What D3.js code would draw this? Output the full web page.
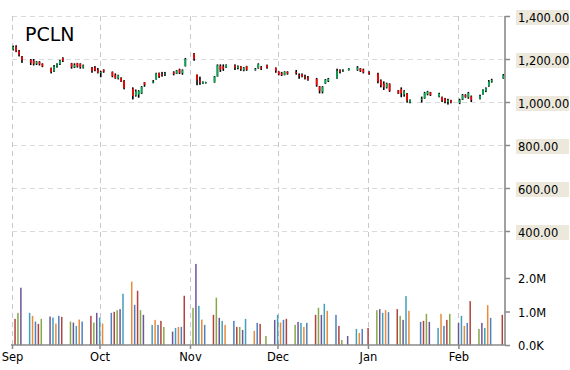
<!DOCTYPE html>
<html>
<head>
<meta charset="utf-8">
<script src="https://cdn.jsdelivr.net/npm/d3@7"></script>
<style>
  body { margin: 0; background: #fff; }
  svg text { font-family: "DejaVu Sans", Verdana, sans-serif; fill: #000; }
</style>
</head>
<body>
<svg id="chart" width="570" height="370"></svg>
<script>
// trading days, Sep 2014 - Feb 2015
var dates = [
  "2014-09-02","2014-09-03","2014-09-04","2014-09-05","2014-09-08","2014-09-09","2014-09-10","2014-09-11","2014-09-12",
  "2014-09-15","2014-09-16","2014-09-17","2014-09-18","2014-09-19","2014-09-22","2014-09-23","2014-09-24","2014-09-25",
  "2014-09-26","2014-09-29","2014-09-30",
  "2014-10-01","2014-10-02","2014-10-03","2014-10-06","2014-10-07","2014-10-08","2014-10-09","2014-10-10","2014-10-13",
  "2014-10-14","2014-10-15","2014-10-16","2014-10-17","2014-10-20","2014-10-21","2014-10-22","2014-10-23","2014-10-24",
  "2014-10-27","2014-10-28","2014-10-29","2014-10-30","2014-10-31",
  "2014-11-03","2014-11-04","2014-11-05","2014-11-06","2014-11-07","2014-11-10","2014-11-11","2014-11-12","2014-11-13",
  "2014-11-14","2014-11-17","2014-11-18","2014-11-19","2014-11-20","2014-11-21","2014-11-24","2014-11-25","2014-11-26",
  "2014-11-28",
  "2014-12-01","2014-12-02","2014-12-03","2014-12-04","2014-12-05","2014-12-08","2014-12-09","2014-12-10","2014-12-11",
  "2014-12-12","2014-12-15","2014-12-16","2014-12-17","2014-12-18","2014-12-19","2014-12-22","2014-12-23","2014-12-24",
  "2014-12-26","2014-12-29","2014-12-30","2014-12-31",
  "2015-01-02","2015-01-05","2015-01-06","2015-01-07","2015-01-08","2015-01-09","2015-01-12","2015-01-13","2015-01-14",
  "2015-01-15","2015-01-16","2015-01-20","2015-01-21","2015-01-22","2015-01-23","2015-01-26","2015-01-27","2015-01-28",
  "2015-01-29","2015-01-30",
  "2015-02-02","2015-02-03","2015-02-04","2015-02-05","2015-02-06","2015-02-09","2015-02-10","2015-02-11","2015-02-12",
  "2015-02-13","2015-02-17"
];

var open = [
  1245,1258,1236,1212,1196,1192,1178,1186,1178,1158,1143,1166,1176,1204,1180,1162,1180,1178,1160,1160,1160,
  1150,1135,1150,1140,1125,1110,1112,1098,1062,1030,1035,1040,1092,1090,1105,1135,1130,1128,1138,1132,1152,1135,1168,
  1225,1127,1100,1086,1088,1092,1120,1168,1165,1160,1170,1158,1165,1148,1166,1150,1158,1162,1172,
  1158,1142,1135,1126,1140,1140,1125,1130,1118,1115,1108,1072,1048,1086,1098,1110,1148,1142,1148,1150,1156,1150,
  1140,1132,1100,1085,1068,1085,1055,1060,1035,1040,998,1010,1018,1036,1045,1025,1024,1015,1000,1008,
  995,1012,1032,1022,1026,1015,1035,1052,1075,1095,1110
];
var high = [
  1262,1264,1242,1214,1200,1200,1190,1190,1180,1160,1172,1180,1196,1208,1182,1180,1182,1180,1174,1163,1167,
  1158,1145,1152,1142,1133,1127,1115,1102,1068,1058,1055,1074,1093,1102,1136,1137,1140,1140,1143,1149,1155,1152,1205,
  1228,1128,1118,1096,1094,1121,1175,1175,1175,1175,1175,1170,1167,1163,1168,1158,1180,1167,1174,
  1161,1143,1140,1143,1143,1149,1133,1133,1127,1121,1112,1074,1074,1107,1112,1155,1152,1152,1158,1167,1158,1155,
  1143,1136,1105,1096,1090,1087,1056,1068,1055,1042,1012,1025,1047,1052,1047,1043,1025,1019,1015,1010,
  1015,1037,1036,1047,1030,1034,1059,1068,1102,1108,1130
];
var low = [
  1240,1232,1212,1182,1172,1170,1172,1170,1162,1133,1140,1160,1172,1186,1155,1158,1160,1155,1156,1136,1143,
  1133,1115,1136,1115,1108,1105,1093,1059,1012,1025,1020,1037,1071,1087,1104,1112,1118,1121,1124,1130,1130,1127,1165,
  1192,1078,1080,1084,1086,1090,1118,1140,1145,1158,1149,1152,1145,1143,1145,1146,1155,1149,1155,
  1136,1124,1121,1124,1127,1127,1108,1115,1105,1099,1071,1040,1040,1084,1093,1108,1133,1140,1146,1145,1140,1133,
  1127,1087,1068,1056,1063,1047,1037,1022,1025,997,994,997,1015,1031,1028,1022,1000,994,988,994,
  990,1009,1020,1015,1000,1012,1034,1046,1071,1090,1108
];
var close = [
  1256,1236,1220,1195,1184,1178,1187,1176,1166,1140,1165,1175,1192,1192,1164,1172,1166,1162,1170,1145,1148,
  1136,1139,1142,1120,1112,1124,1096,1065,1028,1050,1050,1070,1080,1095,1133,1118,1125,1132,1130,1146,1136,1148,1200,
  1200,1102,1090,1094,1092,1118,1170,1150,1155,1172,1160,1166,1152,1160,1150,1154,1176,1155,1160,
  1145,1128,1126,1140,1132,1135,1122,1118,1115,1103,1078,1052,1070,1104,1108,1145,1140,1146,1156,1160,1145,1138,
  1132,1095,1078,1068,1086,1052,1040,1040,1050,1005,1010,1015,1042,1048,1032,1038,1006,1002,1008,998,
  1008,1032,1024,1042,1010,1028,1056,1064,1095,1102,1124
];
// volume in millions (no bar on the first day)
var volume = [
  null,0.78,0.96,1.71,0.96,0.87,0.70,0.63,0.78,0.85,0.82,0.64,0.87,0.84,0.70,0.67,0.57,0.76,0.70,0.87,0.67,
  0.96,0.82,0.64,0.96,0.99,1.04,1.07,1.53,1.89,1.20,1.62,1.04,0.90,0.60,0.75,0.60,0.72,0.54,0.40,0.51,0.54,0.54,1.47,
  1.11,2.42,1.17,0.76,0.60,0.90,1.41,0.81,0.72,0.60,0.72,0.54,0.54,0.45,0.78,0.42,0.66,0.63,0.27,
  0.75,0.90,0.67,0.75,0.78,0.60,0.69,0.66,0.54,0.66,0.90,1.11,0.90,1.23,1.02,0.90,0.57,0.15,0.27,0.48,0.36,0.48,
  0.51,1.04,1.07,0.96,1.04,0.98,1.07,0.87,0.75,1.46,1.02,0.69,0.72,0.93,0.69,0.51,0.93,0.57,0.75,0.93,
  0.66,0.87,0.57,0.66,1.31,0.48,0.66,0.51,1.19,0.81,0.90
];

var priceTicks = [400, 600, 800, 1000, 1200, 1400];
var volumeTicks = [0, 1, 2];
var volumeTickLabels = ["0.0K", "1.0M", "2.0M"];
var monthTicks = ["2014-09-01","2014-10-01","2014-11-01","2014-12-01","2015-01-01","2015-02-01"];
var volumeColors = ["#4f81bd","#b0433f","#86a84a","#6e5598","#3fa0bb","#e98a3c"];

var svg = d3.select("svg#chart"),
    plot = {left: 12, right: 505, top: 16, bottom: 345};

var parseDate = d3.timeParse("%Y-%m-%d");

var data = dates.map(function(d, i) {
  return {date: parseDate(d), open: open[i], high: high[i], low: low[i], close: close[i], volume: volume[i], i: i};
});

var x = d3.scaleTime()
    .domain([parseDate("2014-09-01"), parseDate("2015-02-18")])
    .range([plot.left, 508]);
var y = d3.scaleLinear().domain([400, 1400]).range([231, plot.top]);
var yVol = d3.scaleLinear().domain([0, 2]).range([plot.bottom, 278]);

// grid
svg.append("g").selectAll("line")
    .data(priceTicks)
  .enter().append("line")
    .attr("x1", plot.left).attr("x2", plot.right)
    .attr("y1", function(d) { return Math.round(y(d)) + 0.5; })
    .attr("y2", function(d) { return Math.round(y(d)) + 0.5; })
    .attr("stroke", "#dadada")
    .attr("stroke-dasharray", "5,4");

svg.append("g").selectAll("line")
    .data(monthTicks)
  .enter().append("line")
    .attr("x1", function(d) { return Math.round(x(parseDate(d))) + 0.5; })
    .attr("x2", function(d) { return Math.round(x(parseDate(d))) + 0.5; })
    .attr("y1", plot.top).attr("y2", plot.bottom)
    .attr("stroke", "#c8c8c8")
    .attr("stroke-dasharray", "5,4");

// title
svg.append("text")
    .attr("x", 25)
    .attr("y", 41)
    .style("font-size", "19px")
    .text("PCLN");

// volume bars
svg.append("g").selectAll("rect")
    .data(data.filter(function(d) { return d.volume != null; }))
  .enter().append("rect")
    .attr("x", function(d) { return x(d3.timeHour.offset(d.date, -23)) - 0.75; })
    .attr("y", function(d) { return yVol(d.volume); })
    .attr("width", 1.5)
    .attr("height", function(d) { return plot.bottom - yVol(d.volume); })
    .attr("fill", function(d) { return volumeColors[d.i % 6]; });

// candles
var candle = svg.append("g").selectAll("g")
    .data(data)
  .enter().append("g")
    .attr("transform", function(d) { return "translate(" + (x(d3.timeHour.offset(d.date, -14)) - 0.8) + ",0)"; });

candle.append("rect")
    .attr("y", function(d) { return y(d.high); })
    .attr("width", 1.6)
    .attr("height", function(d) { return y(d.low) - y(d.high); })
    .attr("fill", "#000");

candle.append("rect")
    .attr("y", function(d) { return y(Math.max(d.open, d.close)); })
    .attr("width", 1.6)
    .attr("height", function(d) { return Math.max(1, Math.abs(y(d.open) - y(d.close))); })
    .attr("fill", function(d) { return d.close >= d.open ? "#00b050" : "#ff0000"; });

// bottom axis
var xAxis = svg.append("g")
    .attr("transform", "translate(0," + plot.bottom + ")")
    .call(d3.axisBottom(x)
      .tickValues(monthTicks.map(parseDate))
      .tickFormat(d3.timeFormat("%b"))
      .tickSize(4)
      .tickPadding(4));
xAxis.select(".domain").remove();
xAxis.selectAll("text").style("font-size", "11.5px").attr("font-family", null);

svg.append("line")
    .attr("x1", plot.left - 1).attr("x2", plot.right)
    .attr("y1", plot.bottom).attr("y2", plot.bottom)
    .attr("stroke", "#8a8a8a")
    .attr("stroke-width", 1.6);

// right axes
var priceAxis = svg.append("g")
    .attr("transform", "translate(" + plot.right + ",0)")
    .call(d3.axisRight(y).tickValues(priceTicks).tickFormat(d3.format(",.2f")).tickSize(5).tickPadding(8));
priceAxis.select(".domain").remove();
priceAxis.selectAll(".tick").insert("rect", "text")
    .attr("x", 11).attr("y", -6.5)
    .attr("width", 53).attr("height", 15)
    .attr("fill", "#ece9dc");

var volAxis = svg.append("g")
    .attr("transform", "translate(" + plot.right + ",0)")
    .call(d3.axisRight(yVol).tickValues(volumeTicks)
      .tickFormat(function(d, i) { return volumeTickLabels[i]; })
      .tickSize(5).tickPadding(8));
volAxis.select(".domain").remove();

svg.selectAll(".tick line").attr("stroke", "#8a8a8a").attr("stroke-width", 1.5);
priceAxis.selectAll("text").attr("dy", "0.45em").attr("x", 13).style("font-size", "11.5px").attr("font-family", null);
volAxis.selectAll("text").attr("dy", "0.4em").attr("x", 13).style("font-size", "11.5px").attr("font-family", null);

svg.append("line")
    .attr("x1", plot.right).attr("x2", plot.right)
    .attr("y1", plot.top).attr("y2", plot.bottom)
    .attr("stroke", "#8a8a8a")
    .attr("stroke-width", 1.6);
</script>
</body>
</html>
